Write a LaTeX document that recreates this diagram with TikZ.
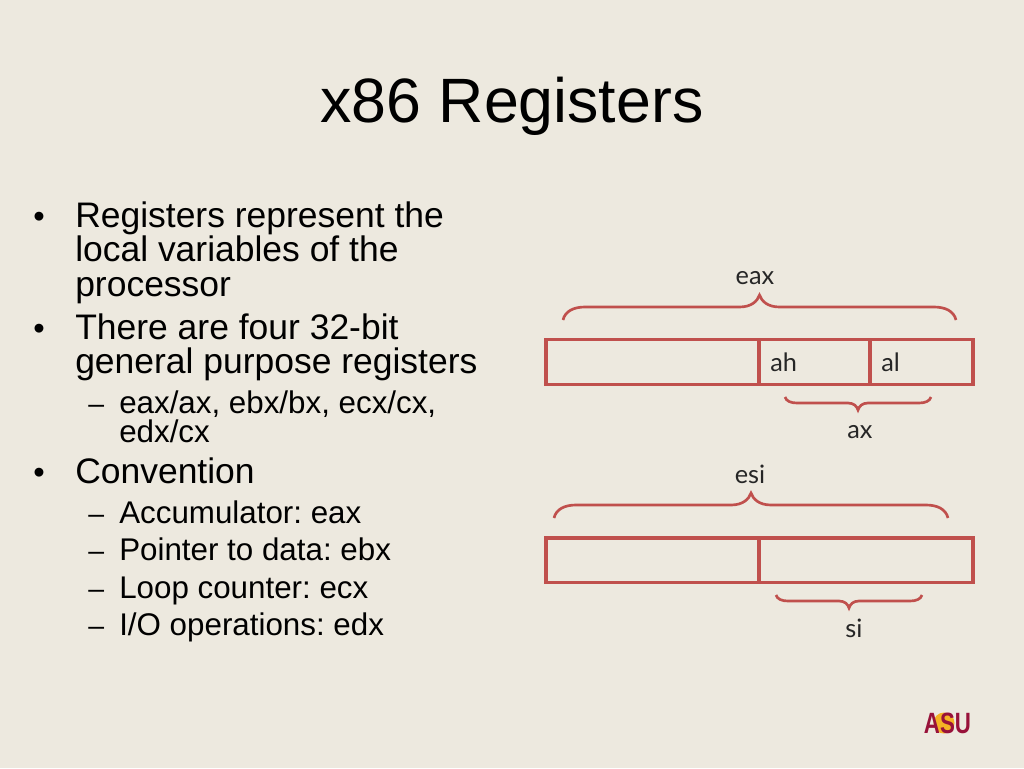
\documentclass[tikz,border=0pt]{standalone}
\usepackage{fontspec}
\setmainfont{Liberation Sans}
\newfontfamily\regfont{Lato}
\usetikzlibrary{positioning, calc}
\definecolor{slidebg}{HTML}{EDE9DF}
\definecolor{regred}{HTML}{C0504D}
\definecolor{asumaroon}{HTML}{98123A}
\definecolor{asugold}{HTML}{F5B324}
\frenchspacing
\tikzset{
  regbox/.style={draw=regred, line width=2.5pt, minimum height=33.5pt, inner sep=0pt, outer sep=0pt},
  regcurve/.style={draw=regred, line width=2pt},
  reglabel/.style={font=\regfont\fontsize{19}{19}\selectfont, text=black!85, inner sep=0pt},
  level1/.style={anchor=base west, inner sep=0pt, font=\fontsize{26.6}{26.6}\selectfont},
  level2/.style={anchor=base west, inner sep=0pt, font=\fontsize{23.5}{23.5}\selectfont},
  mark1/.style={anchor=base west, inner sep=0pt, font=\fontsize{24.5}{24.5}\selectfont},
  mark2/.style={anchor=base west, inner sep=0pt, font=\fontsize{21.3}{21.3}\selectfont},
}
% left end, right end, end width, end height, middle width, tip height
\newcommand{\regcurly}[6]{
	\draw [regcurve] (#1)
		.. controls ($(#1)+(0.1*#3,-0.7*#4)$) and ($(#1)+(0.5*#3,-#4)$) .. ($(#1)+(#3,-#4)$)
		-- ($(#1)!0.5!(#2)+(-#5,-#4)$)
		.. controls ($(#1)!0.5!(#2)+(-0.4*#5,-#4)$) and ($(#1)!0.5!(#2)+(-0.1*#5,-#4-0.5*#6)$) .. ($(#1)!0.5!(#2)+(0,-#4-#6)$)
		.. controls ($(#1)!0.5!(#2)+(0.1*#5,-#4-0.5*#6)$) and ($(#1)!0.5!(#2)+(0.4*#5,-#4)$) .. ($(#1)!0.5!(#2)+(#5,-#4)$)
		-- ($(#2)+(-#3,-#4)$)
		.. controls ($(#2)+(-0.5*#3,-#4)$) and ($(#2)+(-0.1*#3,-0.7*#4)$) .. (#2);
}
\begin{document}
\begin{tikzpicture}[x=0.75pt, y=-0.75pt]
	\useasboundingbox (0,0) rectangle (1024,768);
	\fill [slidebg] (0,0) rectangle (1024,768);

	\node [inner sep=0pt, font=\fontsize{47}{47}\selectfont] (title) at (512,106) {x86 Registers};

	% left column
	\node [mark1] (b1) at (33,227) {•};
	\node [level1] (t1) at (75,227) {Registers represent the};
	\node [level1] (t2) at (75,261) {local variables of the};
	\node [level1] (t3) at (75,296) {processor};
	\node [mark1] (b2) at (33,339) {•};
	\node [level1] (t4) at (75,339) {There are four 32-bit};
	\node [level1] (t5) at (75,373) {general purpose registers};
	\node [mark2] (d1) at (88,413) {–};
	\node [level2] (t6) at (119,413) {eax/ax, ebx/bx, ecx/cx,};
	\node [level2] (t7) at (119,442) {edx/cx};
	\node [mark1] (b3) at (33,483) {•};
	\node [level1] (t8) at (75,483) {Convention};
	\node [mark2] (d2) at (88,523) {–};
	\node [level2] (t9) at (119,523) {Accumulator: eax};
	\node [mark2] (d3) at (88,560) {–};
	\node [level2] (t10) at (119,560) {Pointer to data: ebx};
	\node [mark2] (d4) at (88,598) {–};
	\node [level2] (t11) at (119,598) {Loop counter: ecx};
	\node [mark2] (d5) at (88,635) {–};
	\node [level2] (t12) at (119,635) {I/O operations: edx};

	% eax
	\node [regbox, minimum width=159.75pt, anchor=north west] (eaxhigh) at (546,339.5) {};
	\node [regbox, minimum width=83.25pt, right=0pt of eaxhigh] (ah) {};
	\node [regbox, minimum width=77.25pt, right=0pt of ah] (al) {};
	\node [reglabel, anchor=base west] (ahlabel) at (770,371) {ah};
	\node [reglabel, anchor=base west] (allabel) at (881,371) {al};
	\coordinate (eaxleft) at (563,320);
	\coordinate (eaxright) at (956,320);
	\regcurly{eaxleft}{eaxright}{22}{13}{20}{12}
	\node [reglabel] (eaxlabel) at (755,278) {eax};
	\coordinate (axleft) at (785,397);
	\coordinate (axright) at (931,397);
	\regcurly{axleft}{axright}{12}{-6}{10}{-7}
	\node [reglabel] (axlabel) at (860,432) {ax};

	% esi
	\node [regbox, minimum width=159.75pt, anchor=north west] (esihigh) at (546,538) {};
	\node [regbox, minimum width=160.5pt, right=0pt of esihigh] (si) {};
	\coordinate (esileft) at (554,518);
	\coordinate (esiright) at (948,518);
	\regcurly{esileft}{esiright}{22}{13}{20}{12}
	\node [reglabel] (esilabel) at (750,474) {esi};
	\coordinate (sileft) at (776,595);
	\coordinate (siright) at (922,595);
	\regcurly{sileft}{siright}{12}{-6}{10}{-7}
	\node [reglabel] (silabel) at (854,628) {si};

	% logo
	\fill [asugold] (944,723) circle [radius=10.5];
	\node [inner sep=0pt, text=asumaroon, xscale=0.76, font=\bfseries\fontsize{22}{22}\selectfont] (asu) at (947.5,723) {ASU};
\end{tikzpicture}
\end{document}
